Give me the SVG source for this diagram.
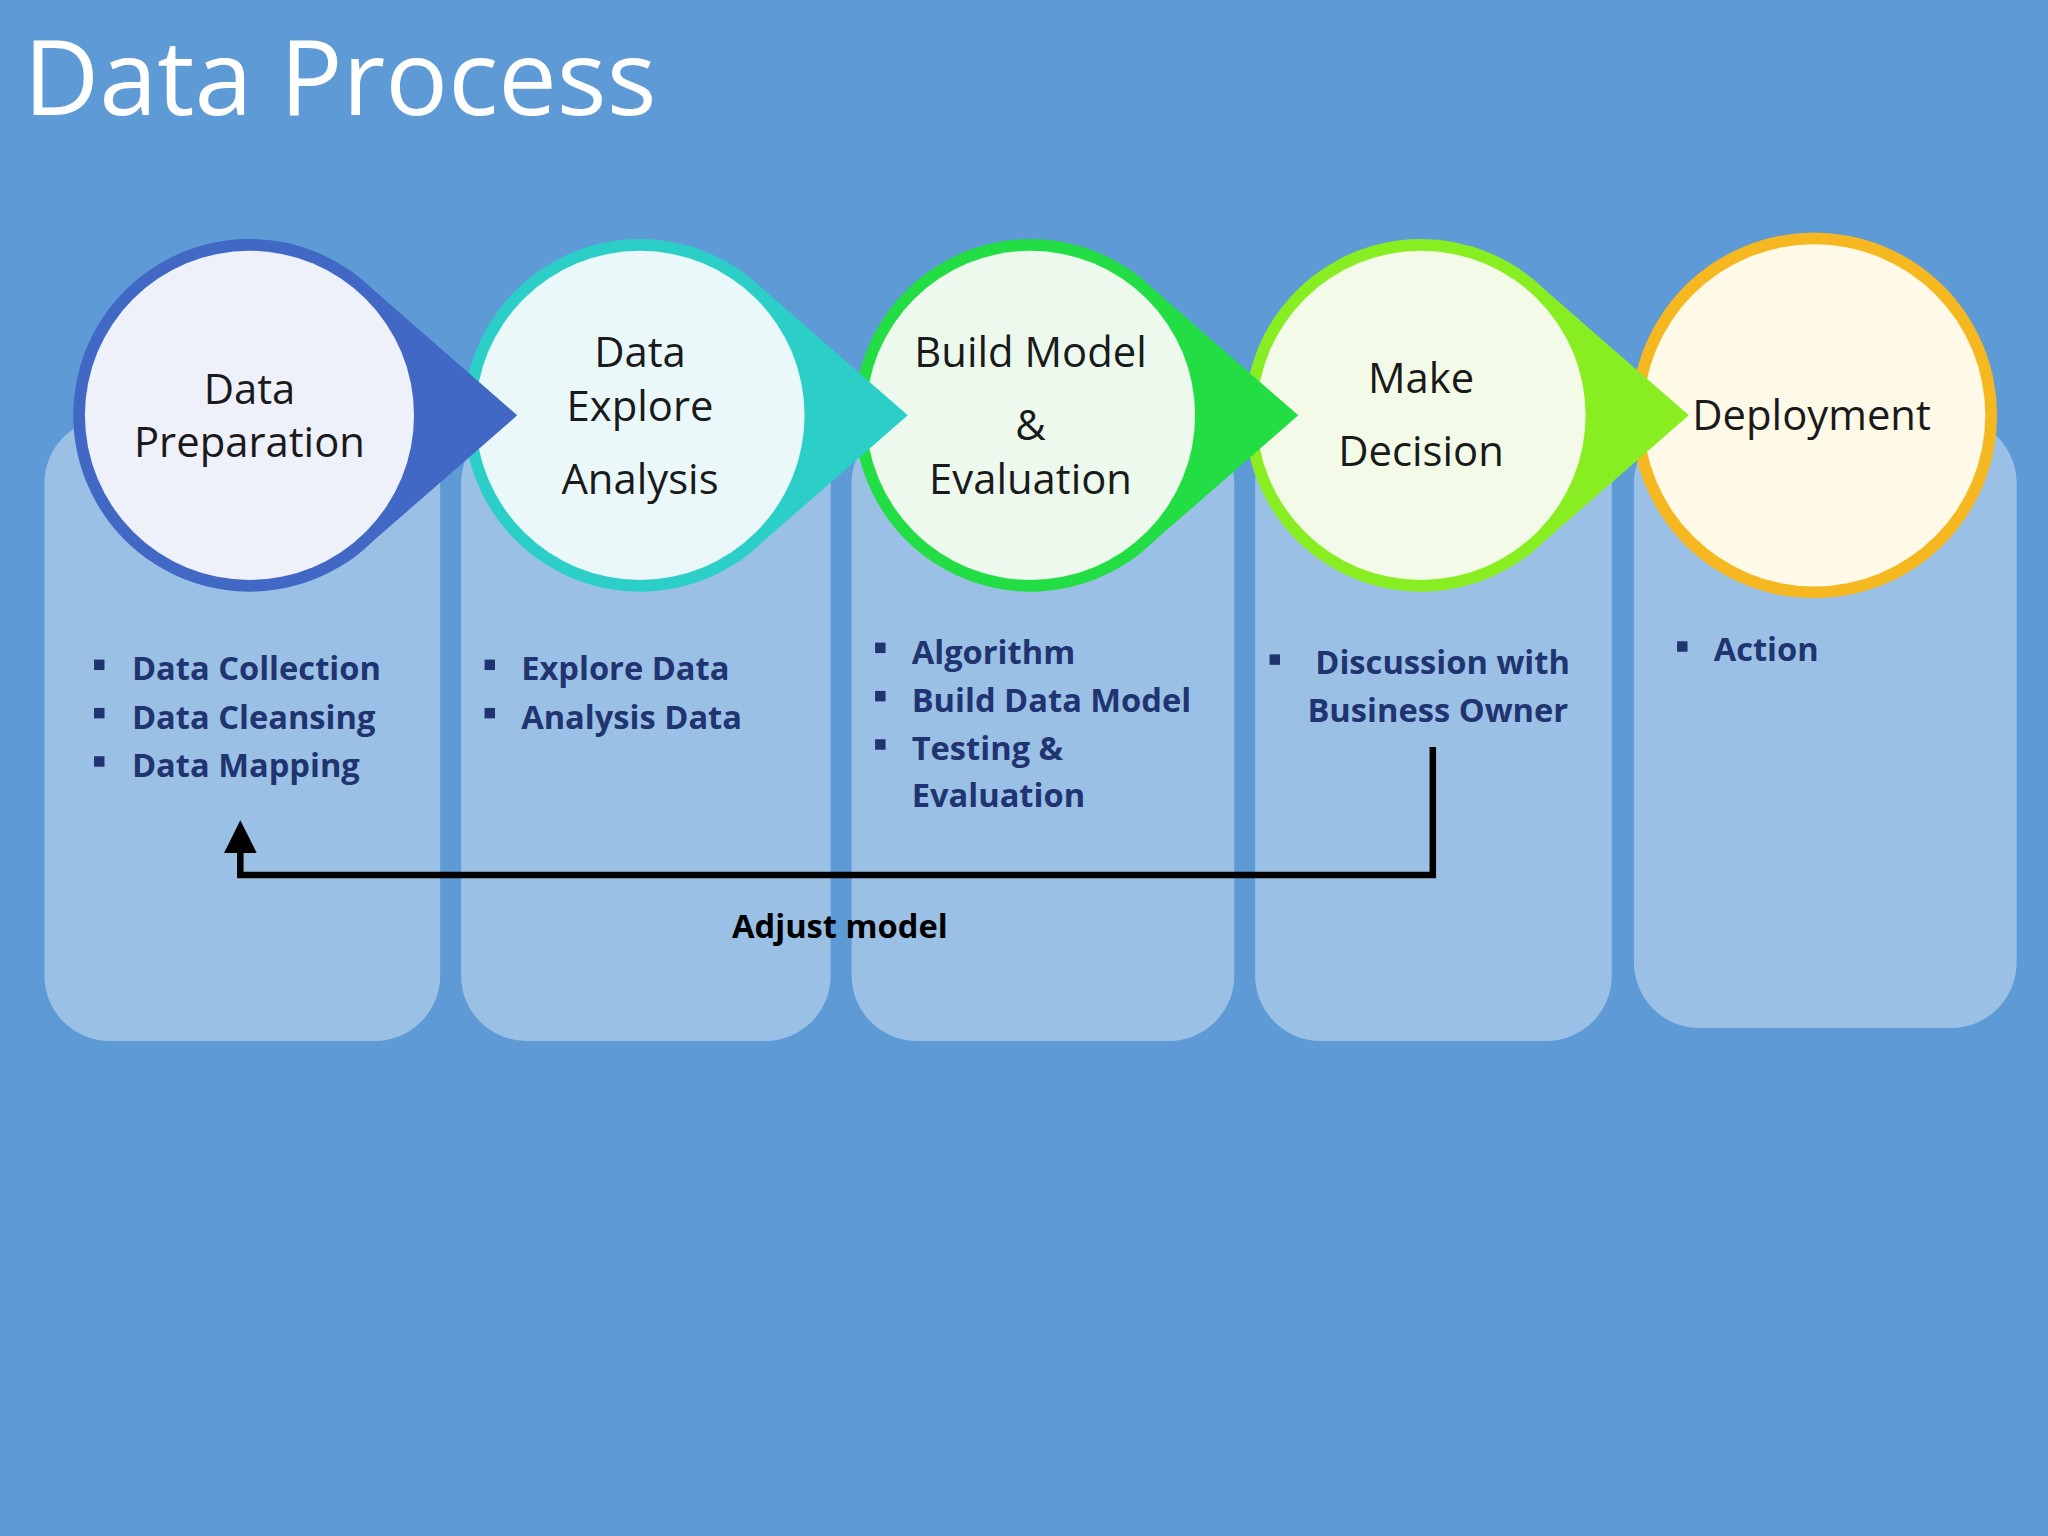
<svg xmlns="http://www.w3.org/2000/svg" width="2048" height="1536" viewBox="0 0 2048 1536">
<style>
.t{font-family:"Open Sans","Noto Sans",sans-serif;font-size:32px;fill:#1a1a1a;text-anchor:middle}
.b{font-family:"Open Sans","Noto Sans",sans-serif;font-size:25px;font-weight:bold;fill:#1F3470}
.p{fill:#ffffff;fill-opacity:0.38}
</style>
<defs>
<marker id="ah" markerWidth="5" markerHeight="5" refX="2" refY="2.5" orient="auto" markerUnits="strokeWidth"><path d="M0,0L5,2.5L0,5z" fill="#000"/></marker>
</defs>
<rect width="2048" height="1536" fill="#5E9AD5"/>
<g transform="scale(1.30612)">
<text x="18" y="88" font-family="Open Sans,Noto Sans,sans-serif" font-size="80" fill="#fff">Data Process</text>
<g id="panels">
<rect class="p" x="34" y="320" width="303" height="477" rx="50"/>
<rect class="p" x="353" y="320" width="283" height="477" rx="50"/>
<rect class="p" x="652" y="320" width="293" height="477" rx="50"/>
<rect class="p" x="961" y="320" width="273" height="477" rx="50"/>
<rect class="p" x="1251" y="320" width="293" height="467" rx="50"/>
</g>
<g id="n5"><circle cx="1389" cy="318" r="140" fill="#F5B820"/><circle cx="1389" cy="318" r="131" fill="#FFF9E8"/>
<text class="t" x="1387" y="329">Deployment</text></g>
<g id="n4"><path d="M1088,183 A135,135 0 1 0 1183.5,413.5 L1293,318 L1183.5,222.5 A135,135 0 0 0 1088,183z" fill="#88EE22"/><circle cx="1088" cy="318" r="126" fill="#F3FBE8"/>
<text class="t" x="1088" y="301">Make</text><text class="t" x="1088" y="357">Decision</text></g>
<g id="n3"><path d="M789,183 A135,135 0 1 0 884.5,413.5 L994,318 L884.5,222.5 A135,135 0 0 0 789,183z" fill="#22DD44"/><circle cx="789" cy="318" r="126" fill="#EDF9EC"/>
<text class="t" x="789" y="281">Build Model</text><text class="t" x="789" y="337">&amp;</text><text class="t" x="789" y="378">Evaluation</text></g>
<g id="n2"><path d="M490,183 A135,135 0 1 0 585.5,413.5 L695,318 L585.5,222.5 A135,135 0 0 0 490,183z" fill="#2CCFC8"/><circle cx="490" cy="318" r="126" fill="#EAF8FA"/>
<text class="t" x="490" y="281">Data</text><text class="t" x="490" y="322">Explore</text><text class="t" x="490" y="378">Analysis</text></g>
<g id="n1"><path d="M191,183 A135,135 0 1 0 286.5,413.5 L396,318 L286.5,222.5 A135,135 0 0 0 191,183z" fill="#4068C4"/><circle cx="191" cy="318" r="126" fill="#EEF0FA"/>
<text class="t" x="191" y="309">Data</text><text class="t" x="191" y="350">Preparation</text></g>
<g id="bullets">
<g fill="#1F3470">
<rect x="72" y="505" width="8" height="8"/><rect x="72" y="542" width="8" height="8"/><rect x="72" y="579" width="8" height="8"/>
<rect x="371" y="505" width="8" height="8"/><rect x="371" y="542" width="8" height="8"/>
<rect x="670" y="492" width="8" height="8"/><rect x="670" y="529" width="8" height="8"/><rect x="670" y="566" width="8" height="8"/>
<rect x="972" y="501" width="8" height="8"/><rect x="1284" y="491" width="8" height="8"/>
</g>
<text class="b" x="101" y="521">Data Collection</text><text class="b" x="101" y="558">Data Cleansing</text><text class="b" x="101" y="595">Data Mapping</text>
<text class="b" x="399" y="521">Explore Data</text><text class="b" x="399" y="558">Analysis Data</text>
<text class="b" x="698" y="508">Algorithm</text><text class="b" x="698" y="545">Build Data Model</text><text class="b" x="698" y="582">Testing &amp;</text><text class="b" x="698" y="618">Evaluation</text>
<text class="b" x="1007" y="516">Discussion with</text><text class="b" x="1001" y="553">Business Owner</text>
<text class="b" x="1312" y="506">Action</text>
</g>
<g id="connectors">
<path d="M1097,572 V670 H184 V643" fill="none" stroke="#000" stroke-width="5" marker-end="url(#ah)"/>
<text x="643" y="718" font-family="Open Sans,Noto Sans,sans-serif" font-size="25" font-weight="bold" text-anchor="middle" fill="#000">Adjust model</text>
</g>
</g>
</svg>
